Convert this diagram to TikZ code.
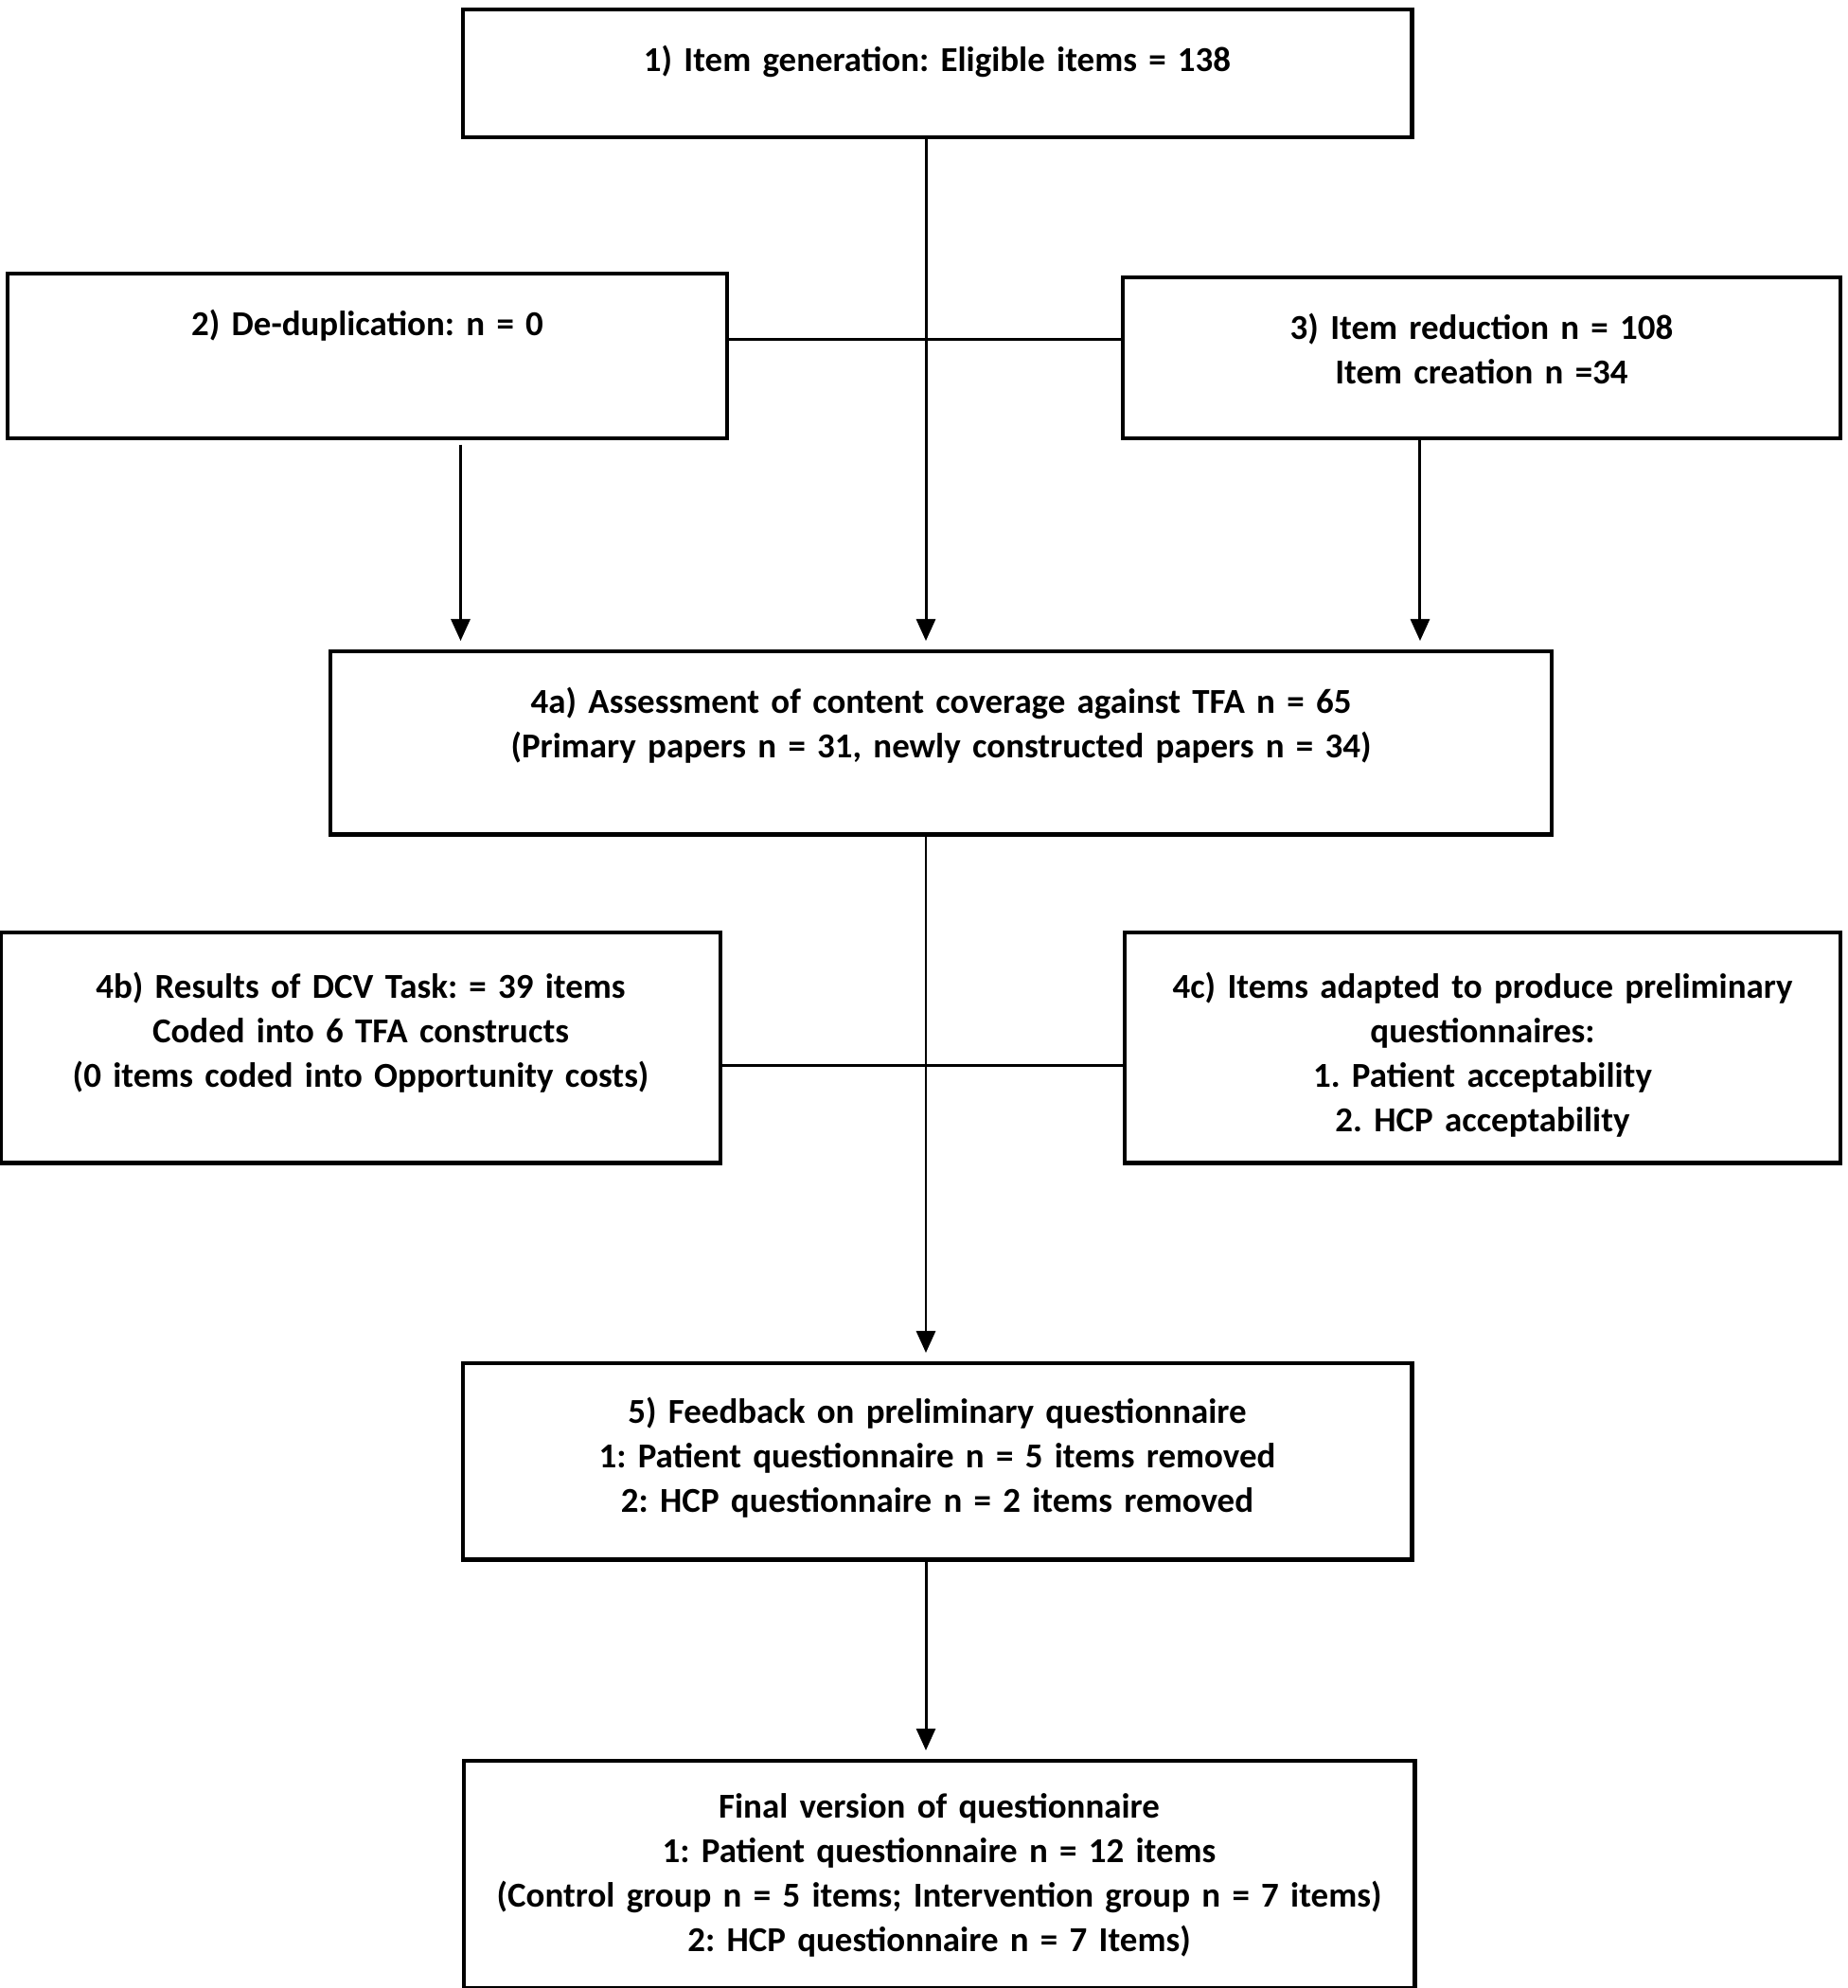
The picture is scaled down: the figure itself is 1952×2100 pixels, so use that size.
\documentclass[tikz,border=0pt]{standalone}
\usepackage{fontspec}
\setmainfont{Carlito}
\usepackage{tikz}
\usetikzlibrary{arrows.meta}

\begin{document}
\begin{tikzpicture}[x=0.01cm, y=-0.01cm,
  stage/.style={draw, line width=1.25pt, inner sep=0pt, anchor=north, align=center,
    text height=0.65cm, font=\bfseries\fontsize{10.5}{13.4}\selectfont\frenchspacing},
  flow/.style={line width=0.85pt, -{Triangle[length=0.23cm, width=0.2cm]}, shorten >=0.09cm},
  link/.style={line width=0.85pt}]
  \useasboundingbox (0,0) rectangle (1952,2100);

  \node[stage, text width=10.02cm, text depth=0.70cm] (gen) at (990,8) {1) Item generation: Eligible items = 138};
  \node[stage, text width=7.59cm, text depth=1.09cm] (dedup) at (388,287) {2) De-duplication: n = 0};
  \node[stage, text width=7.58cm, text depth=1.05cm] (reduce) at (1565,291) {3) Item reduction n = 108\\Item creation n =34};
  \node[stage, text width=12.89cm, text depth=1.28cm] (assess) at (994,686) {4a) Assessment of content coverage against TFA n = 65\\(Primary papers n = 31, newly constructed papers n = 34)};
  \node[stage, text width=7.59cm, text height=0.69cm, text depth=1.74cm] (results) at (381,983) {4b) Results of DCV Task: = 39 items\\Coded into 6 TFA constructs\\(0 items coded into Opportunity costs)};
  \node[stage, text width=7.56cm, text height=0.69cm, text depth=1.74cm] (adapt) at (1566,983) {4c) Items adapted to produce preliminary\\questionnaires:\\1. Patient acceptability\\2. HCP acceptability};
  \node[stage, text width=10.02cm, text height=0.63cm, text depth=1.44cm] (feedback) at (990,1438) {5) Feedback on preliminary questionnaire\\1: Patient questionnaire n = 5 items removed\\2: HCP questionnaire n = 2 items removed};
  \node[stage, text width=10.04cm, text height=0.60cm, text depth=1.80cm] (final) at (992,1858) {Final version of questionnaire\\1: Patient questionnaire n = 12 items\\(Control group n = 5 items; Intervention group n = 7 items)\\2: HCP questionnaire n = 7 Items)};

  % top part
  \draw[flow] ([xshift=-0.12cm]gen.south) -- ([xshift=-0.12cm]gen.south |- assess.north);
  \draw[link] ([yshift=0.18cm]dedup.east) -- ([yshift=0.18cm]dedup.east -| reduce.west);
  \draw[flow, shorten <=0.04cm] (dedup.south -| gen.west) -- (assess.north -| gen.west);
  \draw[flow] ([xshift=-0.65cm]reduce.south) -- ([xshift=-0.65cm]reduce.south |- assess.north);

  % bottom part
  \draw[flow] ([xshift=-0.16cm]assess.south) -- ([xshift=-0.16cm]assess.south |- feedback.north);
  \draw[link] ([yshift=-0.19cm]results.east) -- ([yshift=-0.19cm]results.east -| adapt.west);
  \draw[flow] ([xshift=-0.12cm]feedback.south) -- ([xshift=-0.12cm]feedback.south |- final.north);
\end{tikzpicture}
\end{document}
